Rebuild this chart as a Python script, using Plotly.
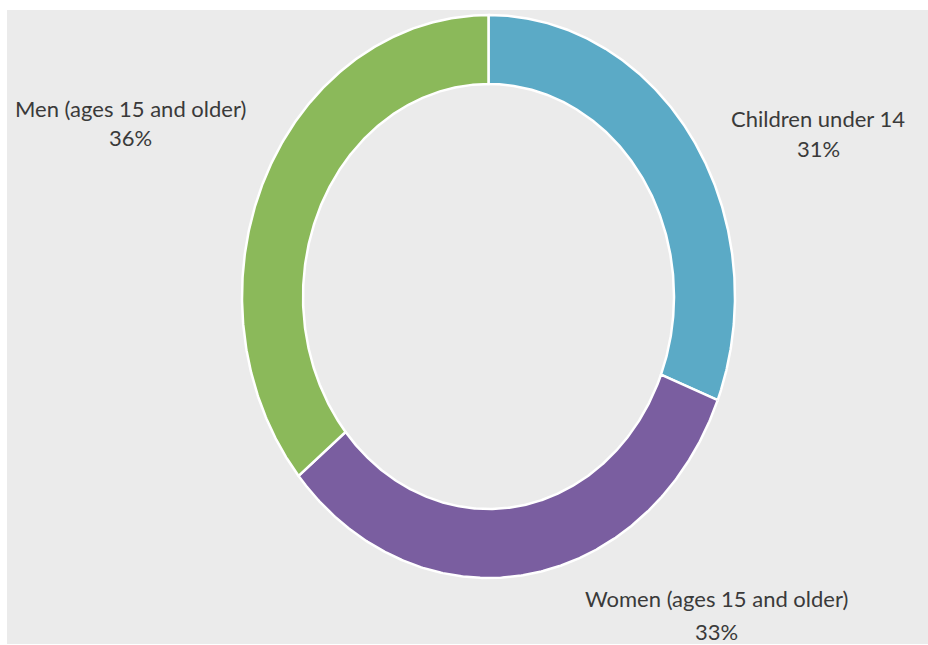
import numpy as np
import plotly.graph_objects as go

# ---- data ----
categories = ["Children under 14", "Women (ages 15 and older)", "Men (ages 15 and older)"]
shares = [31, 33, 36]
colors = ["#5BAAC6", "#7A5EA0", "#8BB95A"]

# ---- layout constants (pixel space) ----
W, H = 928, 645
cx, cy = 488.5, 296.5
rxo, ryo = 246.5, 281.5
rxi, ryi = 185.5, 212.5
label_pos = [  # (x, y line1, y line2)
    (818, 118, 148),
    (716, 598, 631),
    (130, 108, 137),
]
font_family = "Lato, 'Open Sans', sans-serif"
text_color = "#3a3a3a"
font_size = 22

fig = go.Figure()
total = sum(shares)
cum = 0
for cat, v, col in zip(categories, shares, colors):
    a0 = cum / total * 2 * np.pi
    a1 = (cum + v) / total * 2 * np.pi
    cum += v
    t = np.linspace(a0, a1, 300)
    xo = cx + rxo * np.sin(t)
    yo = cy - ryo * np.cos(t)
    xi = cx + rxi * np.sin(t[::-1])
    yi = cy - ryi * np.cos(t[::-1])
    xs = np.concatenate([xo, xi, xo[:1]])
    ys = np.concatenate([yo, yi, yo[:1]])
    fig.add_trace(go.Scatter(
        x=xs, y=ys, mode="lines", fill="toself", fillcolor=col,
        line=dict(color="white", width=2.5), name=cat,
        hoveron="fills", hoverinfo="text", text=f"{cat}: {v}%",
    ))

for (cat, v), (lx, ly1, ly2) in zip(zip(categories, shares), label_pos):
    fig.add_annotation(x=lx, y=ly1, text=cat, showarrow=False, xref="x", yref="y",
                       xanchor="center", yanchor="middle",
                       font=dict(family=font_family, size=font_size, color=text_color))
    fig.add_annotation(x=lx, y=ly2, text=f"{v}%", showarrow=False, xref="x", yref="y",
                       xanchor="center", yanchor="middle",
                       font=dict(family=font_family, size=font_size, color=text_color))

fig.add_shape(type="rect", xref="x", yref="y", x0=7, y0=10, x1=W, y1=644,
              fillcolor="#EBEBEB", line=dict(width=0), layer="below")

fig.update_layout(
    width=W, height=H,
    margin=dict(l=0, r=0, t=0, b=0),
    paper_bgcolor="white", plot_bgcolor="white",
    showlegend=False,
    xaxis=dict(range=[0, W], visible=False, fixedrange=True),
    yaxis=dict(range=[H, 0], visible=False, fixedrange=True),
)

fig.write_html(
    "out.html",
    config={"displayModeBar": False},
    post_script="document.body.style.margin='0';document.body.style.overflow='hidden';",
)
